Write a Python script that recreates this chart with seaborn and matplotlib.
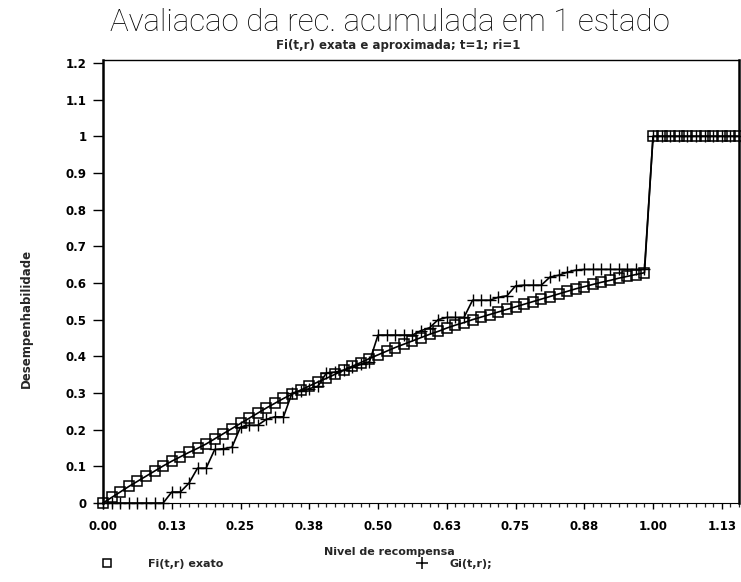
import matplotlib
matplotlib.use("Agg")
import matplotlib.pyplot as plt
from matplotlib.lines import Line2D
from matplotlib.ticker import FixedLocator
import seaborn as sns
import pandas as pd

# ---------------- data ----------------
reward_level = [
    0.0, 0.015625, 0.03125, 0.046875, 0.0625, 0.078125, 0.09375, 0.109375,
    0.125, 0.140625, 0.15625, 0.171875, 0.1875, 0.203125, 0.21875, 0.234375,
    0.25, 0.265625, 0.28125, 0.296875, 0.3125, 0.328125, 0.34375, 0.359375,
    0.375, 0.390625, 0.40625, 0.421875, 0.4375, 0.453125, 0.46875, 0.484375,
    0.5, 0.515625, 0.53125, 0.546875, 0.5625, 0.578125, 0.59375, 0.609375,
    0.625, 0.640625, 0.65625, 0.671875, 0.6875, 0.703125, 0.71875, 0.734375,
    0.75, 0.765625, 0.78125, 0.796875, 0.8125, 0.828125, 0.84375, 0.859375,
    0.875, 0.890625, 0.90625, 0.921875, 0.9375, 0.953125, 0.96875, 0.984375,
    1.0, 1.015625, 1.03125, 1.046875, 1.0625, 1.078125, 1.09375, 1.109375,
    1.125, 1.140625, 1.15625,
]

fi_exact = [
    0.0, 0.015, 0.030, 0.045, 0.059, 0.073, 0.087, 0.101,
    0.114, 0.126, 0.138, 0.149, 0.161, 0.175, 0.189, 0.203,
    0.217, 0.231, 0.245, 0.259, 0.272, 0.285, 0.297, 0.308,
    0.319, 0.330, 0.340, 0.351, 0.362, 0.373, 0.383, 0.394,
    0.404, 0.414, 0.424, 0.433, 0.442, 0.451, 0.460, 0.468,
    0.477, 0.485, 0.492, 0.500, 0.507, 0.514, 0.521, 0.528,
    0.535, 0.542, 0.549, 0.556, 0.563, 0.570, 0.577, 0.584,
    0.590, 0.596, 0.602, 0.607, 0.613, 0.618, 0.623, 0.628,
    1.0, 1.0, 1.0, 1.0, 1.0, 1.0, 1.0, 1.0,
    1.0, 1.0, 1.0,
]

gi_approx = [
    0.0, 0.0, 0.0, 0.0, 0.0, 0.0, 0.0, 0.0,
    0.030, 0.030, 0.054, 0.095, 0.095, 0.146, 0.148, 0.152,
    0.207, 0.212, 0.212, 0.228, 0.235, 0.235, 0.300, 0.305,
    0.312, 0.318, 0.355, 0.357, 0.362, 0.370, 0.378, 0.385,
    0.458, 0.458, 0.458, 0.458, 0.458, 0.470, 0.478, 0.500,
    0.506, 0.506, 0.506, 0.553, 0.553, 0.553, 0.561, 0.565,
    0.592, 0.594, 0.594, 0.594, 0.616, 0.621, 0.629, 0.635,
    0.637, 0.637, 0.637, 0.637, 0.637, 0.637, 0.637, 0.637,
    1.0, 1.0, 1.0, 1.0, 1.0, 1.0, 1.0, 1.0,
    1.0, 1.0, 1.0,
]

x_ticks = [0.0, 0.125, 0.25, 0.375, 0.5, 0.625, 0.75, 0.875, 1.0, 1.125]
x_tick_labels = ["0.00", "0.13", "0.25", "0.38", "0.50", "0.63", "0.75", "0.88", "1.00", "1.13"]
y_ticks = [0.0, 0.1, 0.2, 0.3, 0.4, 0.5, 0.6, 0.7, 0.8, 0.9, 1.0, 1.1, 1.2]
y_tick_labels = ["0", "0.1", "0.2", "0.3", "0.4", "0.5", "0.6", "0.7", "0.8", "0.9", "1", "1.1", "1.2"]

title = "Avaliacao da rec. acumulada em 1 estado"
subtitle = "Fi(t,r) exata e aproximada; t=1; ri=1"
x_label = "Nivel de recompensa"
y_label = "Desempenhabilidade"
label_fi = "Fi(t,r) exato"
label_gi = "Gi(t,r);"

# ---------------- plot ----------------
sns.set_theme(style="white")
plt.rcParams["font.family"] = ["DejaVu Sans"]

df = pd.DataFrame({"r": reward_level, "fi": fi_exact, "gi": gi_approx})

W, H = 741, 582
fig = plt.figure(figsize=(W / 100, H / 100), dpi=100)
ax = fig.add_axes([103 / W, 79 / H, 636 / W, 443 / H])

sns.lineplot(data=df, x="r", y="fi", ax=ax, color="black", lw=1.2,
             marker="s", markersize=7, markerfacecolor="none",
             markeredgecolor="black", markeredgewidth=1.1, clip_on=False,
             sort=False, zorder=3)
sns.lineplot(data=df, x="r", y="gi", ax=ax, color="black", lw=1.2,
             marker="+", markersize=9, markeredgewidth=1.0,
             markeredgecolor="black", clip_on=False, sort=False, zorder=4)

ax.set_xlim(0, 1.15625)
ax.set_ylim(0, 1.208)

ax.set_xticks(x_ticks)
ax.set_xticklabels(x_tick_labels)
ax.xaxis.set_minor_locator(FixedLocator(reward_level))
ax.set_yticks(y_ticks)
ax.set_yticklabels(y_tick_labels)

ax.tick_params(axis="x", which="major", direction="out", length=4.5, width=1,
               pad=7.5, labelsize=8.5, colors="black", bottom=True)
ax.tick_params(axis="x", which="minor", direction="out", length=3, width=0.9,
               bottom=True)
ax.tick_params(axis="y", which="major", direction="out", length=7, width=1,
               pad=5, labelsize=8.5, colors="black", left=True)
for lab in ax.get_xticklabels() + ax.get_yticklabels():
    lab.set_fontweight("bold")

for side, lw in [("left", 1.8), ("right", 1.8), ("top", 1.0), ("bottom", 0.8)]:
    ax.spines[side].set_visible(True)
    ax.spines[side].set_color("black")
    ax.spines[side].set_linewidth(lw)

ax.set_xlabel("")
ax.set_ylabel("")
ax.grid(False)

fig.text(390 / W, 1 - 31 / H, title, ha="center", va="baseline",
         fontsize=22.5, family=["Roboto", "DejaVu Sans"], fontweight="light",
         color="black")
fig.text(398 / W, 1 - 45 / H, subtitle, ha="center", va="center",
         fontsize=8.5, fontweight="bold")
fig.text(389 / W, 1 - 552 / H, x_label, ha="center", va="center",
         fontsize=8, fontweight="bold")
fig.text(26 / W, 1 - 318 / H, y_label, ha="center", va="center",
         rotation=90, fontsize=8.5, fontweight="bold")

h_fi = Line2D([], [], ls="none", marker="s", markersize=6, markerfacecolor="none",
              markeredgecolor="black", markeredgewidth=1.1)
h_gi = Line2D([], [], ls="none", marker="+", markersize=8, markeredgecolor="black",
              markeredgewidth=1.1)
for h, lab, x0, pad in [(h_fi, label_fi, 100, 3.0), (h_gi, label_gi, 415, 1.8)]:
    fig.legend([h], [lab], loc="center left", bbox_to_anchor=(x0 / W, 1 - 564 / H),
               frameon=False, borderpad=0, borderaxespad=0, handlelength=1.3,
               handletextpad=pad, prop={"size": 8, "weight": "bold"})

fig.savefig("out.png", dpi=100)
